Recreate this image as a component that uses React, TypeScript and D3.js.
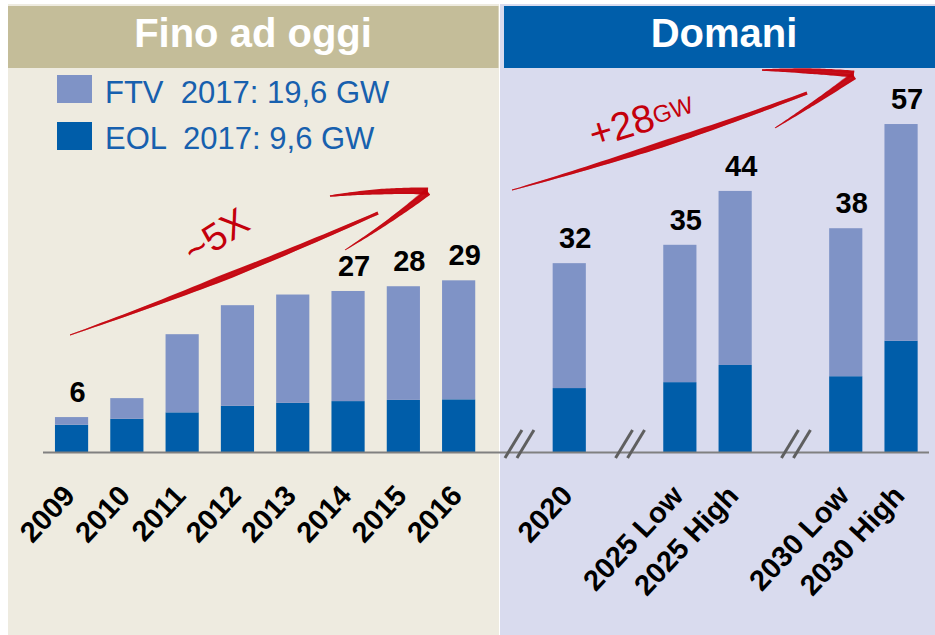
import React from "react";
import * as d3 from "d3";

// values in GW
const leftCats = ["2009", "2010", "2011", "2012", "2013", "2014", "2015", "2016"];
const leftEol = [4.6, 5.6, 6.7, 7.8, 8.3, 8.6, 8.8, 8.9];
const leftFtv = [1.3, 3.5, 13.2, 17.0, 18.3, 18.6, 19.2, 20.1];
const leftLabels = ["6", "", "", "", "", "27", "28", "29"];

const rightCats = ["2020", "2025 Low", "2025 High", "2030 Low", "2030 High"];
const rightEol = [10.8, 11.8, 14.7, 12.8, 18.8];
const rightFtv = [21.1, 23.2, 29.4, 25.0, 36.6];
const rightLabels = ["32", "35", "44", "38", "57"];

const slots = [...leftCats, "gap1", "2020", "gap2", "2025 Low", "2025 High", "gap3", "2030 Low", "2030 High"];
const breakSlots = ["gap1", "gap2", "gap3"];

const panelTitles = ["Fino ad oggi", "Domani"];
const legendLabels = ["FTV  2017: 19,6 GW", "EOL  2017: 9,6 GW"];

const W = 935;
const H = 635;
const FONT = "Arial, 'Liberation Sans', sans-serif";
const C = {
  leftBg: "#EEEBE0",
  leftHead: "#C4BD99",
  rightBg: "#D9DBEE",
  rightHead: "#005EAA",
  eol: "#005DA9",
  ftv: "#7F93C6",
  axis: "#808080",
  red: "#C4000B",
  legendText: "#1760AE",
};

type Pt = [number, number];

// tapered brush stroke along a quadratic curve
function brush(p0: Pt, c: Pt, p1: Pt, w0: number, wm: number, w1: number, shift = 0) {
  const n = 40;
  const left: Pt[] = [];
  const right: Pt[] = [];
  for (let i = 0; i <= n; i++) {
    const t = i / n;
    const mt = 1 - t;
    const x = mt * mt * p0[0] + 2 * mt * t * c[0] + t * t * p1[0];
    const y = mt * mt * p0[1] + 2 * mt * t * c[1] + t * t * p1[1];
    const dx = 2 * mt * (c[0] - p0[0]) + 2 * t * (p1[0] - c[0]);
    const dy = 2 * mt * (c[1] - p0[1]) + 2 * t * (p1[1] - c[1]);
    const len = Math.hypot(dx, dy) || 1;
    const nx = -dy / len;
    const ny = dx / len;
    const w = t < 0.5 ? w0 + (wm - w0) * (t / 0.5) : wm + (w1 - wm) * ((t - 0.5) / 0.5);
    const ox = x + nx * shift * w;
    const oy = y + ny * shift * w;
    left.push([ox + (nx * w) / 2, oy + (ny * w) / 2]);
    right.push([ox - (nx * w) / 2, oy - (ny * w) / 2]);
  }
  const pts = left.concat(right.reverse());
  return "M" + pts.map((p) => p[0].toFixed(1) + "," + p[1].toFixed(1)).join("L") + "Z";
}

const Stroke = ({ p, w }: { p: Pt[]; w: number[] }) => (
  <g>
    <path d={brush(p[0], p[1], p[2], w[0], w[1], w[2])} opacity={0.92} />
    <path d={brush(p[0], p[1], p[2], w[0] * 0.5, w[1] * 0.35, w[2] * 0.4, 0.75)} opacity={0.5} />
    <path d={brush(p[0], p[1], p[2], w[0] * 0.4, w[1] * 0.3, w[2] * 0.35, -0.7)} opacity={0.45} />
  </g>
);

const Arrow = ({ shaft, upper, lower }: { shaft: Pt[]; upper: Pt[]; lower: Pt[] }) => (
  <g fill={C.red}>
    <Stroke p={shaft} w={[0.8, 6.5, 3]} />
    <Stroke p={upper} w={[1.5, 5.5, 7]} />
    <Stroke p={lower} w={[7, 4, 0.8]} />
  </g>
);

export default function App() {
  const x = d3
    .scaleBand<string>()
    .domain(slots)
    .range([43.9, 928.7])
    .paddingInner(0.4)
    .paddingOuter(0.2);
  const y = d3.scaleLinear().domain([0, 60]).range([452, 96.8]);
  const bw = x.bandwidth();

  const bars = [
    ...leftCats.map((c, i) => ({ c, eol: leftEol[i], ftv: leftFtv[i], label: leftLabels[i] })),
    ...rightCats.map((c, i) => ({ c, eol: rightEol[i], ftv: rightFtv[i], label: rightLabels[i] })),
  ];

  return (
    <svg
      width={W}
      height={H}
      viewBox={`0 0 ${W} ${H}`}
      style={{ position: "absolute", left: 0, top: 0, display: "block", background: "#fff" }}
      fontFamily={FONT}
    >
      {/* panels */}
      <rect x={8} y={4} width={491} height={H - 4} fill={C.leftBg} />
      <rect x={500} y={4} width={W - 500} height={H - 4} fill={C.rightBg} />
      <rect x={8} y={6} width={490.5} height={62} fill={C.leftHead} />
      <rect x={504} y={6} width={W - 504} height={62} fill={C.rightHead} />
      <text x={253} y={47} textAnchor="middle" fontSize={40} fontWeight="bold" fill="#fff">
        {panelTitles[0]}
      </text>
      <text x={724} y={47} textAnchor="middle" fontSize={40} fontWeight="bold" fill="#fff">
        {panelTitles[1]}
      </text>

      {/* legend */}
      {legendLabels.map((l, i) => (
        <g key={l}>
          <rect x={57} y={75 + i * 47} width={35} height={28} fill={i === 0 ? C.ftv : C.eol} />
          <text
            x={105}
            y={103 + i * 46}
            fontSize={31}
            fill={C.legendText}
            style={{ whiteSpace: "pre" }}
          >
            {l}
          </text>
        </g>
      ))}

      {/* bars */}
      {bars.map((b) => {
        const x0 = x(b.c)!;
        return (
          <g key={b.c}>
            <rect x={x0} y={y(b.eol)} width={bw} height={y(0) - y(b.eol)} fill={C.eol} />
            <rect
              x={x0}
              y={y(b.eol + b.ftv)}
              width={bw}
              height={y(b.eol) - y(b.eol + b.ftv)}
              fill={C.ftv}
            />
            {b.label && (
              <text
                x={x0 + bw / 2 + 6}
                y={y(b.eol + b.ftv) - 15}
                textAnchor="middle"
                fontSize={29}
                fontWeight="bold"
                fill="#000"
              >
                {b.label}
              </text>
            )}
            <text
              transform={`translate(${x0 + bw / 2 + 5},497) rotate(-47)`}
              textAnchor="end"
              fontSize={29}
              fontWeight="bold"
              fill="#000"
            >
              {b.c}
            </text>
          </g>
        );
      })}

      {/* axis line */}
      <line x1={43} x2={929} y1={y(0) + 0.5} y2={y(0) + 0.5} stroke={C.axis} strokeWidth={2} />

      {/* axis breaks */}
      {breakSlots.map((s) => {
        const cx = x(s)! + bw / 2 + 6;
        return (
          <g key={s} stroke="#5f5f5f" strokeWidth={3}>
            <line x1={cx - 15} y1={458} x2={cx + 2} y2={430} />
            <line x1={cx - 3} y1={458} x2={cx + 14} y2={430} />
          </g>
        );
      })}

      {/* growth arrows */}
      <Arrow
        shaft={[[70, 335], [224, 281], [378, 213]]}
        upper={[[330, 196], [380, 190], [428, 191]]}
        lower={[[428, 192], [390, 222], [345, 250]]}
      />
      <text
        transform="translate(216,236) rotate(-33)"
        textAnchor="middle"
        dominantBaseline="central"
        fontSize={38}
        fill={C.red}
      >
        ~5X
      </text>

      <Arrow
        shaft={[[512, 190], [662, 148], [807, 93]]}
        upper={[[762, 70], [808, 70], [854, 74]]}
        lower={[[854, 76], [815, 103], [775, 128]]}
      />
      <text
        transform="translate(641,119) rotate(-17)"
        textAnchor="middle"
        dominantBaseline="central"
        fill={C.red}
      >
        <tspan fontSize={39}>+28</tspan>
        <tspan fontSize={24}>GW</tspan>
      </text>
    </svg>
  );
}
